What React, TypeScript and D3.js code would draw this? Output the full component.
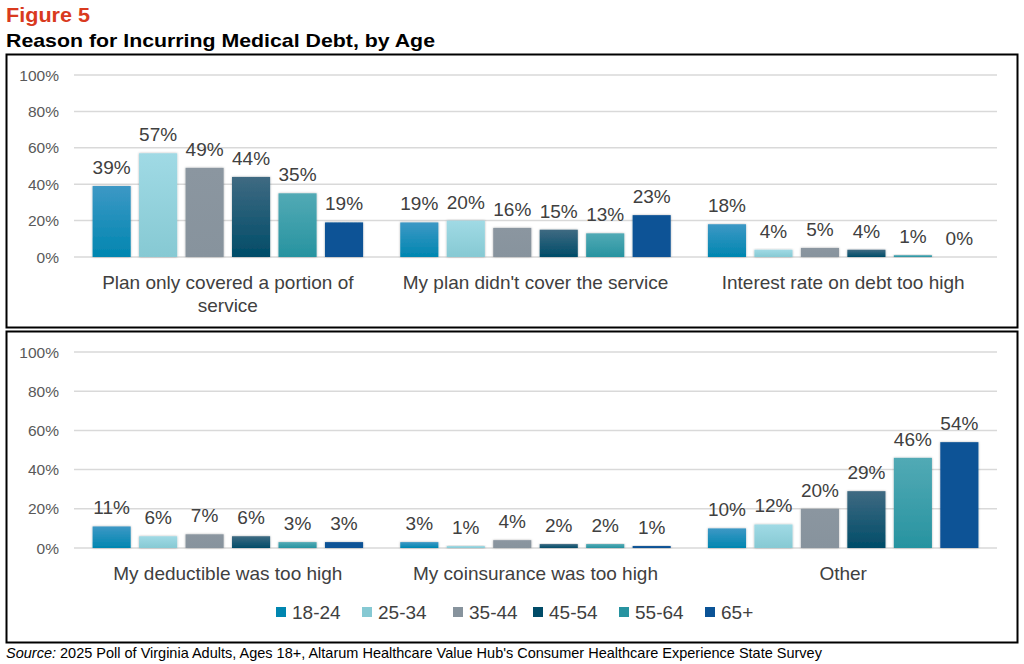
import * as d3 from "d3"

const ages = ["18-24", "25-34", "35-44", "45-54", "55-64", "65+"]
const topReasons = ["Plan only covered a portion of service", "My plan didn't cover the service", "Interest rate on debt too high"]
const topValues = [
	[39, 57, 49, 44, 35, 19],
	[19, 20, 16, 15, 13, 23],
	[18, 4, 5, 4, 1, 0],
]
const bottomReasons = ["My deductible was too high", "My coinsurance was too high", "Other"]
const bottomValues = [
	[11, 6, 7, 6, 3, 3],
	[3, 1, 4, 2, 2, 1],
	[10, 12, 20, 29, 46, 54],
]
const yTicks = [0, 20, 40, 60, 80, 100]

// top / bottom gradient stops per age group
const colors = [
	["#3d98c5", "#0086b0"],
	["#a0dae5", "#86c9d3"],
	["#8b96a0", "#87939d"],
	["#3f6a82", "#004c68"],
	["#52aab5", "#2793a0"],
	["#0b5396", "#0b5396"],
]

const FONT = "'Liberation Sans', Arial, sans-serif"
const W = 1024
const H = 664

const x0 = d3.scaleBand().domain(["0", "1", "2"]).range([74, 997])
const x1 = d3.scaleBand().domain(ages).range([0, x0.bandwidth()]).paddingInner(0.18).paddingOuter(0.4)

// split long category labels the way the reference wraps them
const wrap = (s: string) => (s.length > 32 ? [s.slice(0, 30), s.slice(31)] : [s])

const Panel = ({ reasons, values, y }: { reasons: string[]; values: number[][]; y: d3.ScaleLinear<number, number> }) => {
	const base = y(0)
	return (
		<g>
			{yTicks.map((t) => (
				<g key={t}>
					<line x1={74} x2={997} y1={y(t)} y2={y(t)} stroke="#d9d9d9" strokeWidth={1.5} />
					<text x={59} y={y(t) + 5.5} textAnchor="end" fontSize={15.5} fill="#595959">
						{t}%
					</text>
				</g>
			))}
			{reasons.map((r, i) => {
				const gx = x0(String(i))!
				return (
					<g key={r}>
						{values[i].map((v, j) => {
							const bx = gx + x1(ages[j])!
							const by = y(v)
							return (
								<g key={j}>
									<rect
										x={bx}
										y={by}
										width={x1.bandwidth()}
										height={Math.max(base - by, 0)}
										fill={`url(#grad${j})`}
										filter="url(#shadow)"
									/>
									<text
										x={bx + x1.bandwidth() / 2}
										y={by - 12}
										textAnchor="middle"
										fontSize={19}
										fill="#404040"
									>
										{v}%
									</text>
								</g>
							)
						})}
						{wrap(r).map((line, k) => (
							<text
								key={k}
								x={gx + x0.bandwidth() / 2}
								y={base + 32 + k * 23}
								textAnchor="middle"
								fontSize={19}
								fill="#404040"
							>
								{line}
							</text>
						))}
					</g>
				)
			})}
		</g>
	)
}

const legendX = [276, 362, 453, 533, 619, 705]

export default function App() {
	const yTop = d3.scaleLinear().domain([0, 100]).range([257, 75])
	const yBottom = d3.scaleLinear().domain([0, 100]).range([548, 352])
	return (
		<svg
			width={W}
			height={H}
			style={{ position: "absolute", left: 0, top: 0, fontFamily: FONT, background: "#fff" }}
		>
			<defs>
				{colors.map((c, j) => (
					<linearGradient key={j} id={`grad${j}`} x1="0" y1="0" x2="0" y2="1">
						<stop offset="0%" stopColor={c[0]} />
						<stop offset="100%" stopColor={c[1]} />
					</linearGradient>
				))}
				<filter id="shadow" x="-20%" y="-20%" width="140%" height="140%">
					<feDropShadow dx="0" dy="0" stdDeviation="1.2" floodColor="#000" floodOpacity="0.3" />
				</filter>
			</defs>
			<rect width={W} height={H} fill="#fff" />
			<text x={6} y={22} fontSize={21} fontWeight="bold" fill="#d93a1e" textLength={84} lengthAdjust="spacingAndGlyphs">
				Figure 5
			</text>
			<text x={6} y={47} fontSize={19} fontWeight="bold" fill="#000" textLength={429} lengthAdjust="spacingAndGlyphs">
				Reason for Incurring Medical Debt, by Age
			</text>

			<rect x={6.5} y={54.5} width={1011} height={273} fill="none" stroke="#000" strokeWidth={2} />
			<rect x={6.5} y={331.5} width={1011} height={311} fill="none" stroke="#000" strokeWidth={2} />

			<Panel reasons={topReasons} values={topValues} y={yTop} />
			<Panel reasons={bottomReasons} values={bottomValues} y={yBottom} />

			{ages.map((a, j) => (
				<g key={a} transform={`translate(${legendX[j]},612)`}>
					<rect x={0} y={-5} width={10} height={10} fill={colors[j][1]} />
					<text x={16} y={7} fontSize={19} fill="#404040">
						{a}
					</text>
				</g>
			))}

			<text x={6} y={658} fontSize={14.5} fill="#000">
				<tspan fontStyle="italic">Source:</tspan> 2025 Poll of Virginia Adults, Ages 18+, Altarum Healthcare Value
				Hub's Consumer Healthcare Experience State Survey
			</text>
		</svg>
	)
}
